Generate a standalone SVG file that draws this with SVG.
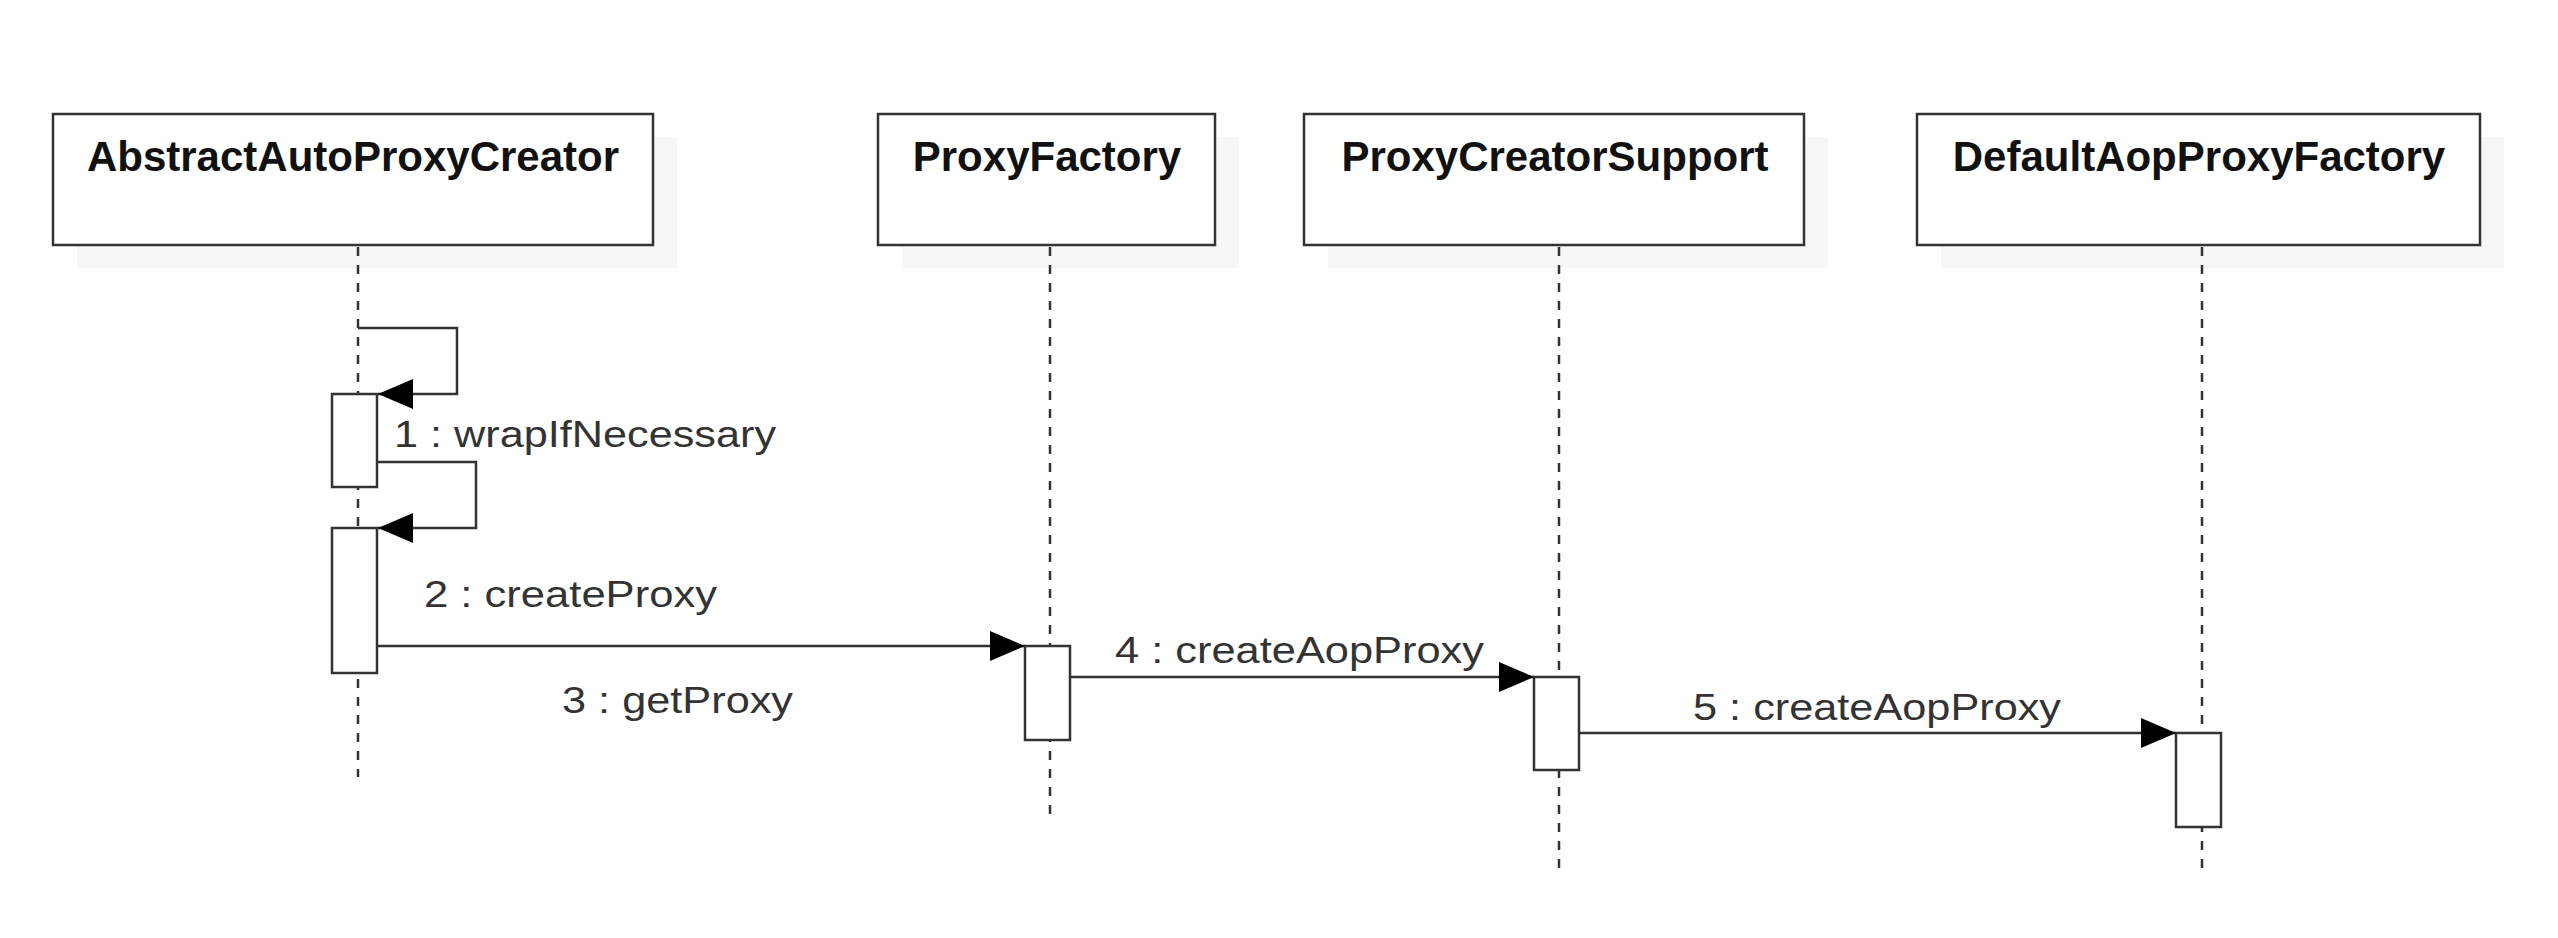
<svg xmlns="http://www.w3.org/2000/svg" width="2558" height="938" viewBox="0 0 2558 938">
<defs>
<style>
.shadow{fill:#f7f7f7;stroke:none}
.box{fill:#ffffff;stroke:#333333;stroke-width:2.5}
.title{font-family:"Liberation Sans",Arial,sans-serif;font-weight:bold;font-size:42px;fill:#111111;text-anchor:middle}
.life{stroke:#333333;stroke-width:2.5;stroke-dasharray:9 9;fill:none}
.act{fill:#ffffff;stroke:#333333;stroke-width:2.5}
.msg{fill:none;stroke:#333333;stroke-width:2.5;marker-end:url(#arrow)}
.lbl{font-family:"Liberation Sans",Arial,sans-serif;font-size:37px;fill:#333333}
</style>
<marker id="arrow" viewBox="0 0 35 30" refX="35" refY="15" markerWidth="35" markerHeight="30" markerUnits="userSpaceOnUse" orient="auto">
<path d="M0,0 L35,15 L0,30 Z" fill="#000000"/>
</marker>
</defs>
<rect width="2558" height="938" fill="#ffffff"/>

<g id="node-abstractautoproxycreator">
<rect class="shadow" x="77" y="137" width="600" height="131"/>
<rect class="box" x="53" y="114" width="600" height="131"/>
<text class="title" x="353" y="171">AbstractAutoProxyCreator</text>
</g>
<g id="node-proxyfactory">
<rect class="shadow" x="902" y="137" width="337" height="131"/>
<rect class="box" x="878" y="114" width="337" height="131"/>
<text class="title" x="1047" y="171">ProxyFactory</text>
</g>
<g id="node-proxycreatorsupport">
<rect class="shadow" x="1328" y="137" width="500" height="131"/>
<rect class="box" x="1304" y="114" width="500" height="131"/>
<text class="title" x="1555" y="171">ProxyCreatorSupport</text>
</g>
<g id="node-defaultaopproxyfactory">
<rect class="shadow" x="1941" y="137" width="563" height="131"/>
<rect class="box" x="1917" y="114" width="563" height="131"/>
<text class="title" x="2199" y="171">DefaultAopProxyFactory</text>
</g>

<g id="lifelines">
<line class="life" x1="358" y1="247" x2="358" y2="777"/>
<line class="life" x1="1050" y1="247" x2="1050" y2="817"/>
<line class="life" x1="1559" y1="247" x2="1559" y2="873"/>
<line class="life" x1="2202" y1="247" x2="2202" y2="873"/>
</g>

<g id="activations">
<rect class="act" x="332" y="394" width="45" height="93"/>
<rect class="act" x="332" y="528" width="45" height="145"/>
<rect class="act" x="1025" y="646" width="45" height="94"/>
<rect class="act" x="1534" y="677" width="45" height="93"/>
<rect class="act" x="2176" y="733" width="45" height="94"/>
</g>

<g id="connectors">
<path class="msg" d="M358,328 H457 V394 H378"/>
<path class="msg" d="M377,462 H476 V528 H378"/>
<path class="msg" d="M377,646 H1025"/>
<path class="msg" d="M1070,677 H1534"/>
<path class="msg" d="M1579,733 H2176"/>
</g>

<g id="labels">
<text class="lbl" x="394" y="447" textLength="382" lengthAdjust="spacingAndGlyphs">1 : wrapIfNecessary</text>
<text class="lbl" x="424" y="607" textLength="293" lengthAdjust="spacingAndGlyphs">2 : createProxy</text>
<text class="lbl" x="562" y="713" textLength="231" lengthAdjust="spacingAndGlyphs">3 : getProxy</text>
<text class="lbl" x="1115" y="663" textLength="369" lengthAdjust="spacingAndGlyphs">4 : createAopProxy</text>
<text class="lbl" x="1693" y="720" textLength="368" lengthAdjust="spacingAndGlyphs">5 : createAopProxy</text>
</g>
</svg>
